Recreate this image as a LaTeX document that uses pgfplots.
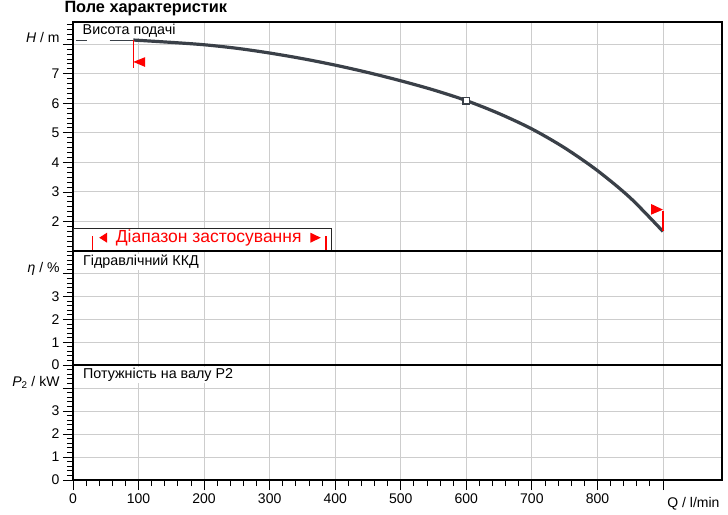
\documentclass[border=0pt]{standalone}
\usepackage{pgfplots}
\pgfplotsset{compat=1.18}
\usepackage{fontspec}
\setmainfont{Liberation Sans}
\definecolor{curvec}{RGB}{58,64,72}
\definecolor{gridc}{RGB}{205,205,205}
\definecolor{redm}{RGB}{255,0,0}
\pgfplotsset{
 panel/.style={
  scale only axis, width=649bp, clip=false,
  xmin=0, xmax=990,
  xtick={0,100,...,900},
  minor x tick num=4,
  grid=major,
  major grid style={gridc, line width=0.9bp},
  axis line style={black, line width=1.1bp},
  tick align=outside,
  major tick length=10bp, minor tick length=6bp,
  tick style={black, line width=0.8bp},
  ytick pos=left, xtick pos=bottom,
  ticklabel style={font=\fontsize{14bp}{16bp}\selectfont},
 },
}
\tikzset{plabel/.style={anchor=west, fill=white, inner sep=1bp, font=\fontsize{14.3bp}{16bp}\selectfont}}
\begin{document}
\begin{tikzpicture}
% ---- H panel ----
\begin{axis}[panel, at={(0,229bp)}, height=229bp,
  ymin=1, ymax=8.75,
  ytick={2,...,8},
  yticklabels={2,3,4,5,6,7,{\raisebox{13bp}{\textit{H} / m}}},
  minor ytick={1.16667,1.33333,...,8.7},
  xticklabels={}, xtick style={draw=none}]
\addplot[fill=white, draw=black!85, line width=1.1bp] coordinates {(1,1)(1,1.75)(394,1.75)(394,1)};
\addplot[redm, line width=1.2bp] coordinates {(30,1.0)(30,1.52)};
\addplot[redm, line width=1.2bp] coordinates {(386,1.0)(386,1.52)};
\addplot[fill=redm, draw=none] coordinates {(40,1.45)(52,1.62)(52,1.28)} -- cycle;
\addplot[fill=redm, draw=none] coordinates {(378,1.45)(362,1.62)(362,1.28)} -- cycle;
\node[text=redm, font=\fontsize{17.5bp}{19bp}\selectfont] at (axis cs:207,1.45) {Діапазон застосування};
\node[plabel] at (axis cs:13,8.46) {Висота подачі};
\addplot[curvec, line width=0.7bp] coordinates {(4,8.14)(21,8.14)};
\addplot[curvec, line width=0.7bp] coordinates {(56,8.14)(92,8.14)};
\addplot[curvec, line width=3.2bp, smooth, tension=0.5] coordinates {(92,8.14)(150,8.06)(200,7.98)(250,7.86)(300,7.70)(350,7.51)(400,7.29)(450,7.04)(500,6.76)(550,6.45)(600,6.09)(650,5.65)(700,5.13)(750,4.49)(800,3.72)(850,2.80)(900,1.66)};
\addplot[redm, line width=1.2bp] coordinates {(92,8.14)(92,7.19)};
\addplot[fill=redm, draw=none] coordinates {(92,7.40)(110,7.56)(110,7.23)} -- cycle;
\addplot[redm, line width=1.2bp] coordinates {(900,1.66)(900,2.36)};
\addplot[fill=redm, draw=none] coordinates {(900,2.40)(882,2.59)(882,2.23)} -- cycle;
\addplot[only marks, mark=square*, mark size=3.2bp, mark options={fill=white, draw=curvec, line width=1.5bp}] coordinates {(600,6.09)};
\node[anchor=west, font=\bfseries\fontsize{16.3bp}{18bp}\selectfont] at ([xshift=-12bp,yshift=13bp]rel axis cs:0,1) {Поле характеристик};
\end{axis}
% ---- eta panel ----
\begin{axis}[panel, at={(0,115bp)}, height=114bp,
  ymin=0, ymax=5,
  ytick={0,...,4},
  yticklabels={0,1,2,3,{\raisebox{12bp}{\textit{η} / \%}}},
  minor ytick={0.2,0.4,...,4.9},
  xticklabels={}, xtick style={draw=none}]
\addplot[draw=none] coordinates {(0,0)};
\node[plabel] at ([xshift=9bp,yshift=-11bp]rel axis cs:0,1) {Гідравлічний ККД};
\end{axis}
% ---- P2 panel ----
\begin{axis}[panel, at={(0,0)}, height=115bp,
  ymin=0, ymax=5,
  ytick={0,...,4},
  yticklabels={0,1,2,3,{\raisebox{13bp}{\textit{P}\textsubscript{2} / kW}}},
  minor ytick={0.2,0.4,...,4.9},
  xticklabels={0,100,200,300,400,500,600,700,800,{}}]
\addplot[draw=none] coordinates {(0,0)};
\node[plabel] at ([xshift=9bp,yshift=-10bp]rel axis cs:0,1) {Потужність на валу Р2};
\node[anchor=base east, font=\fontsize{14bp}{16bp}\selectfont] at ([xshift=1bp,yshift=-27bp]rel axis cs:1,0) {Q / l/min};
\end{axis}
\pgfresetboundingbox
\path[use as bounding box] (-73bp,-35bp) rectangle (655bp,480bp);
\end{tikzpicture}
\end{document}
